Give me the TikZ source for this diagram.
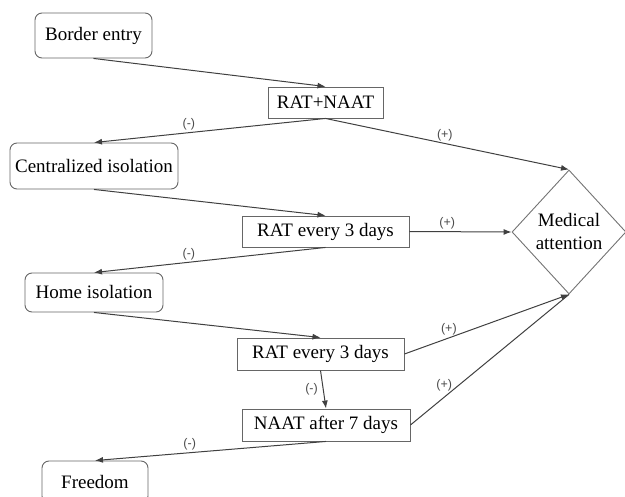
\documentclass[tikz,border=0pt]{standalone}
\usepackage{fontspec}
\setmainfont{Liberation Serif}
\newfontfamily\boxfont{Liberation Serif}
\newfontfamily\labelfont{Liberation Sans}
\usetikzlibrary{shapes.geometric,arrows.meta}

\tikzset{
  stepbox/.style={draw=black!60, line width=0.9pt, inner sep=0pt, font=\boxfont\fontsize{19}{21}\selectfont},
  roundbox/.style={stepbox, rounded corners=7pt},
  decision/.style={draw=black!55, line width=0.9pt, diamond, inner sep=0pt, align=center, font=\boxfont\fontsize{19}{23}\selectfont},
  flow/.style={draw=black!75, line width=1pt, -{Latex[length=8pt,width=6pt]}},
  sign/.style={font=\labelfont\fontsize{12.5}{14}\selectfont, text=black!70, inner sep=2pt}
}

\begin{document}
\begin{tikzpicture}[x=1pt,y=-1pt]
% canvas of the reference
\useasboundingbox (0,0) rectangle (625,497);
\clip (0,0) rectangle (625,497);

% left column: stages
\node[roundbox, minimum width=117pt, minimum height=45pt] (border) at (93.5,35.5) {Border entry};
\node[roundbox, minimum width=168pt, minimum height=46pt] (central) at (94,166) {Centralized isolation};
\node[roundbox, minimum width=138pt, minimum height=39pt] (home) at (94,292.5) {Home isolation};
\node[roundbox, minimum width=106pt, minimum height=42pt] (free) at (95,482) {Freedom};

% middle column: tests
\node[stepbox, minimum width=115pt, minimum height=31pt] (ratnaat) at (325.5,102.5) {RAT+NAAT};
\node[stepbox, minimum width=167pt, minimum height=31pt] (ratA) at (325.5,231.5) {RAT every 3 days};
\node[stepbox, minimum width=167pt, minimum height=32pt] (ratB) at (320.5,354) {RAT every 3 days};
\node[stepbox, minimum width=168pt, minimum height=32pt] (naat) at (326,425) {NAAT after 7 days};

% right: medical attention
\node[decision, minimum width=114pt, minimum height=124pt, aspect=0.92] (med) at (569,232) {Medical\\attention};

% flow down the stages
\draw[flow] (border.south) -- (ratnaat.north);
\draw[flow] (ratnaat.south) -- node[sign, pos=0.59, above] {(-)} (central.north);
\draw[flow] (central.south) -- (ratA.north);
\draw[flow] (ratA.south) -- node[sign, pos=0.59, above] {(-)} (home.north);
\draw[flow] (home.south) -- (ratB.north);
\draw[flow] (ratB.south) -- node[sign, left, xshift=-3pt] {(-)} (naat.north);
\draw[flow] (naat.south) -- node[sign, pos=0.59, above] {(-)} (free.north);

% positive results
\draw[flow] (ratnaat.south) -- node[sign, pos=0.49, above] {(+)} (med.north);
\draw[flow] (ratA.east) -- node[sign, pos=0.37, above] {(+)} (med.west);
\draw[flow] (ratB.east) -- node[sign, pos=0.27, above] {(+)} (med.south);
\draw[draw=black!75, line width=1pt] (naat.east) -- node[sign, pos=0.24, above left, xshift=6pt] {(+)} (med.south);
\end{tikzpicture}
\end{document}
